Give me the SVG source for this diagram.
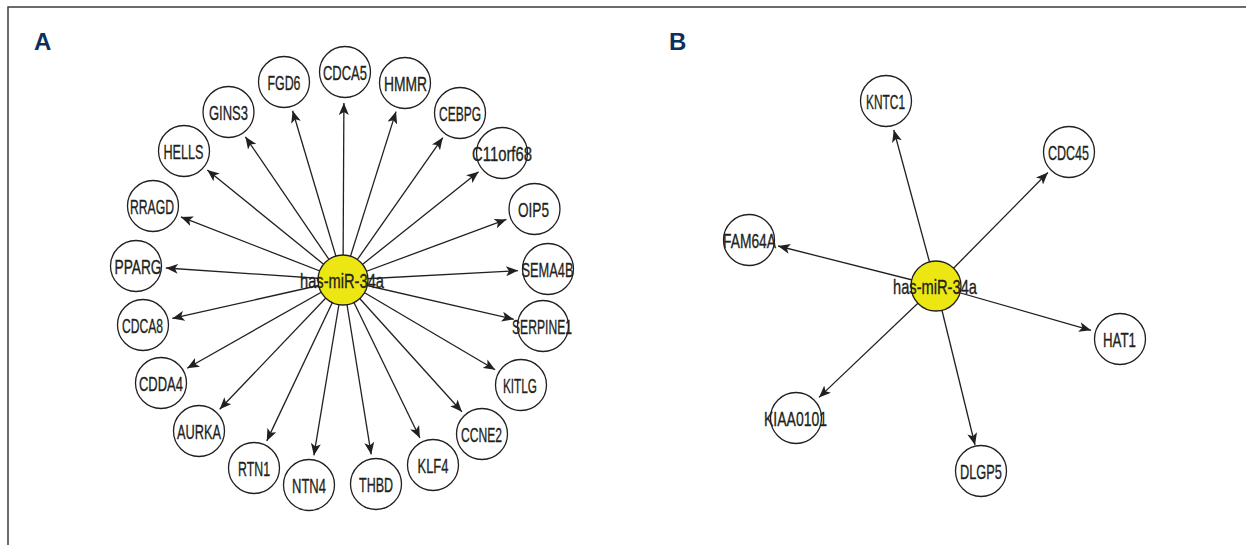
<svg xmlns="http://www.w3.org/2000/svg" width="1246" height="545" viewBox="0 0 1246 545">
<style>
.frame{fill:none;stroke:#3c3c3c;stroke-width:1.5}
.panel{font-family:"Liberation Sans",Arial,sans-serif;font-weight:bold;font-size:24px;fill:#0d2f5e}
.n circle{fill:#fff;stroke:#231f20;stroke-width:1.3}
.hub circle{fill:#ece713;stroke:#231f20;stroke-width:1.3}
text.l{font-family:"Liberation Sans",Arial,sans-serif;font-size:21px;fill:#231f20;stroke:#231f20;stroke-width:0.35;text-anchor:middle}
.edges line{stroke:#231f20;stroke-width:1.3;marker-end:url(#arr)}
</style>
<defs>
<marker id="arr" viewBox="0 0 12 10" refX="12" refY="5" markerWidth="12" markerHeight="10" markerUnits="userSpaceOnUse" orient="auto">
<path d="M0,0 L12,5 L0,10 L3,5 z" fill="#231f20"/>
</marker>
</defs>
<rect width="1246" height="545" fill="#fff"/>
<path class="frame" d="M8,545 V7 H1246"/>
<text class="panel" x="34" y="50">A</text>
<text class="panel" x="669" y="50">B</text>

<g id="connectors" class="edges">
<line x1="343" y1="280" x2="292.6" y2="110.7"/>
<line x1="343" y1="280" x2="343.9" y2="103"/>
<line x1="343" y1="280" x2="245.4" y2="136.8"/>
<line x1="343" y1="280" x2="207.3" y2="169.9"/>
<line x1="343" y1="280" x2="180.9" y2="216.9"/>
<line x1="343" y1="280" x2="165.9" y2="268"/>
<line x1="343" y1="280" x2="172.3" y2="318.4"/>
<line x1="343" y1="280" x2="187.1" y2="368.2"/>
<line x1="343" y1="280" x2="219.7" y2="409.3"/>
<line x1="343" y1="280" x2="266.8" y2="440.9"/>
<line x1="343" y1="280" x2="313.9" y2="455.4"/>
<line x1="343" y1="280" x2="371.2" y2="454.4"/>
<line x1="343" y1="280" x2="419.9" y2="438"/>
<line x1="343" y1="280" x2="461.9" y2="411.7"/>
<line x1="343" y1="280" x2="495.2" y2="369.8"/>
<line x1="343" y1="280" x2="513.8" y2="319.3"/>
<line x1="343" y1="280" x2="518" y2="270.6"/>
<line x1="343" y1="280" x2="506.4" y2="219.4"/>
<line x1="343" y1="280" x2="478.6" y2="171.7"/>
<line x1="343" y1="280" x2="442.8" y2="137.6"/>
<line x1="343" y1="280" x2="396" y2="111.6"/>
<line x1="936" y1="286" x2="893.8" y2="130"/>
<line x1="936" y1="286" x2="1047.9" y2="172.5"/>
<line x1="936" y1="286" x2="778.1" y2="246"/>
<line x1="936" y1="286" x2="1091" y2="330.3"/>
<line x1="936" y1="286" x2="819" y2="397.4"/>
<line x1="936" y1="286" x2="975" y2="445"/>
</g>

<g id="A-FGD6" class="n"><circle cx="284" cy="82" r="25.5"/><text class="l" x="284" y="89.5" textLength="33" lengthAdjust="spacingAndGlyphs">FGD6</text></g>
<g id="A-CDCA5" class="n"><circle cx="345" cy="72" r="25.5"/><text class="l" x="345" y="79.5" textLength="44" lengthAdjust="spacingAndGlyphs">CDCA5</text></g>
<g id="A-GINS3" class="n"><circle cx="228.5" cy="112" r="25.5"/><text class="l" x="228.5" y="119.5" textLength="39" lengthAdjust="spacingAndGlyphs">GINS3</text></g>
<g id="A-HELLS" class="n"><circle cx="184" cy="151" r="25.5"/><text class="l" x="183.5" y="158.5" textLength="40" lengthAdjust="spacingAndGlyphs">HELLS</text></g>
<g id="A-RRAGD" class="n"><circle cx="153" cy="206" r="25.5"/><text class="l" x="152" y="213.5" textLength="44" lengthAdjust="spacingAndGlyphs">RRAGD</text></g>
<g id="A-PPARG" class="n"><circle cx="136" cy="266" r="25.5"/><text class="l" x="138" y="273.5" textLength="47" lengthAdjust="spacingAndGlyphs">PPARG</text></g>
<g id="A-CDCA8" class="n"><circle cx="143" cy="325" r="25.5"/><text class="l" x="142.5" y="332.5" textLength="41" lengthAdjust="spacingAndGlyphs">CDCA8</text></g>
<g id="A-CDDA4" class="n"><circle cx="161" cy="383" r="25.5"/><text class="l" x="161" y="390.5" textLength="44" lengthAdjust="spacingAndGlyphs">CDDA4</text></g>
<g id="A-AURKA" class="n"><circle cx="199" cy="431" r="25.5"/><text class="l" x="199" y="438.5" textLength="44" lengthAdjust="spacingAndGlyphs">AURKA</text></g>
<g id="A-RTN1" class="n"><circle cx="254" cy="468" r="25.5"/><text class="l" x="254" y="475.5" textLength="32" lengthAdjust="spacingAndGlyphs">RTN1</text></g>
<g id="A-NTN4" class="n"><circle cx="309" cy="485" r="25.5"/><text class="l" x="309" y="492.5" textLength="34" lengthAdjust="spacingAndGlyphs">NTN4</text></g>
<g id="A-THBD" class="n"><circle cx="376" cy="484" r="25.5"/><text class="l" x="376" y="491.5" textLength="34" lengthAdjust="spacingAndGlyphs">THBD</text></g>
<g id="A-KLF4" class="n"><circle cx="433" cy="465" r="25.5"/><text class="l" x="433" y="472.5" textLength="31" lengthAdjust="spacingAndGlyphs">KLF4</text></g>
<g id="A-CCNE2" class="n"><circle cx="482" cy="434" r="25.5"/><text class="l" x="481.5" y="441.5" textLength="41" lengthAdjust="spacingAndGlyphs">CCNE2</text></g>
<g id="A-KITLG" class="n"><circle cx="521" cy="385" r="25.5"/><text class="l" x="520" y="392.5" textLength="34" lengthAdjust="spacingAndGlyphs">KITLG</text></g>
<g id="A-SERPINE1" class="n"><circle cx="543" cy="326" r="25.5"/><text class="l" x="542" y="333.5" textLength="60" lengthAdjust="spacingAndGlyphs">SERPINE1</text></g>
<g id="A-SEMA4B" class="n"><circle cx="548" cy="269" r="25.5"/><text class="l" x="547.5" y="276.5" textLength="52" lengthAdjust="spacingAndGlyphs">SEMA4B</text></g>
<g id="A-OIP5" class="n"><circle cx="534.5" cy="209" r="25.5"/><text class="l" x="533.5" y="216.5" textLength="31" lengthAdjust="spacingAndGlyphs">OIP5</text></g>
<g id="A-C11orf68" class="n"><circle cx="502" cy="153" r="25.5"/><text class="l" x="502" y="160.5" textLength="60" lengthAdjust="spacingAndGlyphs">C11orf68</text></g>
<g id="A-CEBPG" class="n"><circle cx="460" cy="113" r="25.5"/><text class="l" x="460" y="120.5" textLength="42" lengthAdjust="spacingAndGlyphs">CEBPG</text></g>
<g id="A-HMMR" class="n"><circle cx="405" cy="83" r="25.5"/><text class="l" x="405.5" y="90.5" textLength="43" lengthAdjust="spacingAndGlyphs">HMMR</text></g>
<g id="A-hub" class="hub"><circle cx="343" cy="280" r="25"/><text class="l" x="342" y="287.5" textLength="84" lengthAdjust="spacingAndGlyphs">has-miR-34a</text></g>

<g id="B-KNTC1" class="n"><circle cx="886" cy="101" r="25.5"/><text class="l" x="885.5" y="108.5" textLength="39" lengthAdjust="spacingAndGlyphs">KNTC1</text></g>
<g id="B-CDC45" class="n"><circle cx="1069" cy="152" r="25.5"/><text class="l" x="1068.5" y="159.5" textLength="41" lengthAdjust="spacingAndGlyphs">CDC45</text></g>
<g id="B-FAM64A" class="n"><circle cx="749" cy="240" r="25.5"/><text class="l" x="749.5" y="247.5" textLength="53" lengthAdjust="spacingAndGlyphs">FAM64A</text></g>
<g id="B-HAT1" class="n"><circle cx="1120" cy="339" r="25.5"/><text class="l" x="1119.5" y="346.5" textLength="33" lengthAdjust="spacingAndGlyphs">HAT1</text></g>
<g id="B-KIAA0101" class="n"><circle cx="796" cy="418" r="25.5"/><text class="l" x="795.5" y="425.5" textLength="63" lengthAdjust="spacingAndGlyphs">KIAA0101</text></g>
<g id="B-DLGP5" class="n"><circle cx="981" cy="471" r="25.5"/><text class="l" x="981" y="478.5" textLength="42" lengthAdjust="spacingAndGlyphs">DLGP5</text></g>
<g id="B-hub" class="hub"><circle cx="936" cy="286" r="25"/><text class="l" x="935" y="293.5" textLength="84" lengthAdjust="spacingAndGlyphs">has-miR-34a</text></g>
</svg>
